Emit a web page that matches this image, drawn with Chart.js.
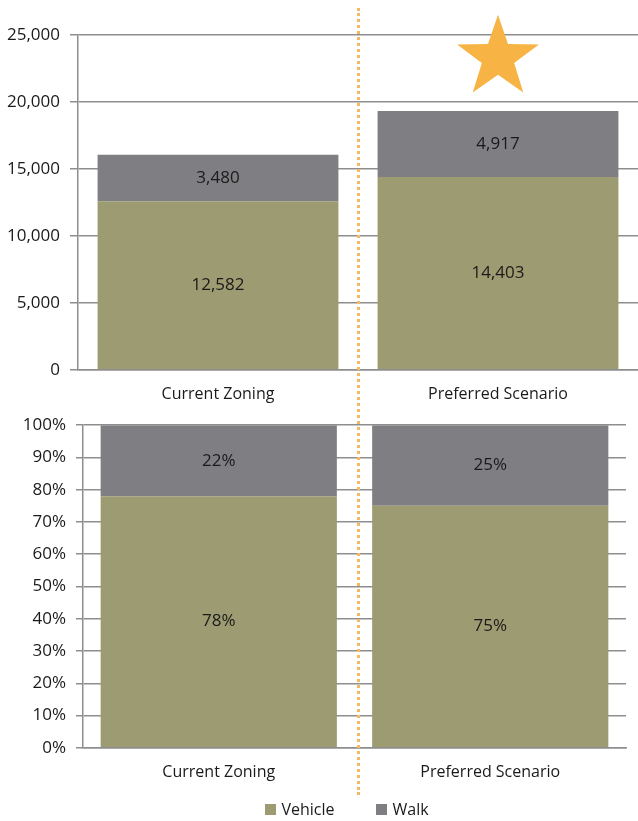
<!DOCTYPE html>
<html>
<head>
<meta charset="utf-8">
<script src="https://cdn.jsdelivr.net/npm/chart.js@4/dist/chart.umd.min.js"></script>
<style>
  html, body { margin: 0; padding: 0; background: #fff; }
  #wrap { position: relative; width: 638px; height: 821px; font-family: 'Open Sans', 'Liberation Sans', sans-serif; }
  #topBox { position: absolute; left: 0; top: 0; width: 638px; height: 411px; }
  #bottomBox { position: absolute; left: 0; top: 405px; width: 638px; height: 384px; }
  #divider { position: absolute; left: 357px; top: 8px; height: 787px; width: 0;
             border-left: 3px dotted #f6b867; z-index: 5; }
  #legend { position: absolute; left: 28px; top: 798px; width: 638px; text-align: center;
            font-size: 16px; color: #1a1a1a; }
  #legend span.item { display: inline-block; margin: 0 21px; }
  #legend span.swatch { display: inline-block; width: 11px; height: 11px; margin-right: 5px;
                        vertical-align: 0px; }
</style>
</head>
<body>
<div id="wrap">
  <div id="topBox"><canvas id="tripsChart"></canvas></div>
  <div id="bottomBox"><canvas id="shareChart"></canvas></div>
  <div id="divider"></div>
  <div id="legend"></div>
</div>
<script>
let categories = ["Current Zoning", "Preferred Scenario"];
let seriesNames = ["Vehicle", "Walk"];
let vehicleTrips = [12582, 14403];
let walkTrips = [3480, 4917];
let vehicleShare = [78, 75];
let walkShare = [22, 25];
let tripTicks = [0, 5000, 10000, 15000, 20000, 25000];

const vehicleColor = "#9c9b71";
const walkColor = "#7f7f83";
const gridColor = "#8e8e8e";
const textColor = "#1a1a1a";
const fontFamily = "'Open Sans', 'Liberation Sans', sans-serif";

// write each segment's value in the middle of its bar
const barLabels = {
    id: "barLabels",
    afterDatasetsDraw(chart, args, opts) {
        let ctx = chart.ctx;
        ctx.save();
        ctx.fillStyle = textColor;
        ctx.font = "17px " + fontFamily;
        ctx.textAlign = "center";
        ctx.textBaseline = "middle";
        chart.data.datasets.forEach(function(ds, i) {
            chart.getDatasetMeta(i).data.forEach(function(bar, j) {
                let mid = (bar.y + bar.base) / 2;
                ctx.fillText(opts.format(ds.data[j]), bar.x, mid);
            });
        });
        ctx.restore();
    }
};

// star above the preferred scenario bar
const starMark = {
    id: "starMark",
    afterDraw(chart) {
        let ctx = chart.ctx;
        let cx = chart.scales.x.getPixelForValue(1);
        let cy = chart.scales.y.getPixelForValue(23300);
        let outer = 43, inner = 17;
        ctx.save();
        ctx.beginPath();
        for (let k = 0; k < 10; k++) {
            let r = k % 2 === 0 ? outer : inner;
            let a = -Math.PI / 2 + k * Math.PI / 5;
            let px = cx + r * Math.cos(a), py = cy + r * Math.sin(a);
            if (k === 0) ctx.moveTo(px, py); else ctx.lineTo(px, py);
        }
        ctx.closePath();
        ctx.fillStyle = "#f7b343";
        ctx.fill();
        ctx.restore();
    }
};

function yFont() { return { family: fontFamily, size: 17 }; }
function xFont() { return { family: fontFamily, size: 16 }; }

let tripsChart = new Chart(document.getElementById("tripsChart"), {
    type: "bar",
    data: {
        labels: categories,
        datasets: [
            { label: seriesNames[0], data: vehicleTrips, backgroundColor: vehicleColor },
            { label: seriesNames[1], data: walkTrips, backgroundColor: walkColor }
        ]
    },
    options: {
        responsive: true,
        maintainAspectRatio: false,
        animation: false,
        layout: { padding: { top: 35, right: 0, left: 0, bottom: 0 } },
        datasets: { bar: { barPercentage: 0.86, categoryPercentage: 1 } },
        plugins: {
            legend: { display: false },
            tooltip: { enabled: false },
            barLabels: { format: v => v.toLocaleString("en-US") }
        },
        scales: {
            x: {
                stacked: true,
                grid: { display: false },
                border: { color: gridColor, width: 1.5 },
                ticks: { color: textColor, font: xFont(), padding: 7 }
            },
            y: {
                stacked: true,
                min: 0,
                max: 25000,
                afterFit: s => { s.width = 78; },
                afterBuildTicks: s => { s.ticks = tripTicks.map(v => ({ value: v })); },
                grid: { color: gridColor, lineWidth: 1.5, tickLength: 8 },
                border: { color: gridColor, width: 1.5 },
                ticks: { color: textColor, font: yFont(), padding: 10,
                         callback: v => v.toLocaleString("en-US") }
            }
        }
    },
    plugins: [barLabels, starMark]
});

let shareChart = new Chart(document.getElementById("shareChart"), {
    type: "bar",
    data: {
        labels: categories,
        datasets: [
            { label: seriesNames[0], data: vehicleShare, backgroundColor: vehicleColor },
            { label: seriesNames[1], data: walkShare, backgroundColor: walkColor }
        ]
    },
    options: {
        responsive: true,
        maintainAspectRatio: false,
        animation: false,
        layout: { padding: { top: 8, right: 12, left: 0, bottom: 0 } },
        datasets: { bar: { barPercentage: 0.87, categoryPercentage: 1 } },
        plugins: {
            legend: { display: false },
            tooltip: { enabled: false },
            barLabels: { format: v => v + "%" }
        },
        scales: {
            x: {
                stacked: true,
                grid: { display: false },
                border: { color: gridColor, width: 1.5 },
                ticks: { color: textColor, font: xFont(), padding: 7 }
            },
            y: {
                stacked: true,
                min: 0,
                max: 100,
                afterFit: s => { s.width = 83; },
                grid: { color: gridColor, lineWidth: 1.5, tickLength: 7 },
                border: { color: gridColor, width: 1.5 },
                ticks: { stepSize: 10, color: textColor, font: yFont(), padding: 10,
                         callback: v => v + "%" }
            }
        }
    },
    plugins: [barLabels]
});

// legend built from the datasets of the share chart
let legendBox = document.getElementById("legend");
shareChart.data.datasets.forEach(function(ds) {
    let item = document.createElement("span");
    item.className = "item";
    let sw = document.createElement("span");
    sw.className = "swatch";
    sw.style.background = ds.backgroundColor;
    item.appendChild(sw);
    item.appendChild(document.createTextNode(ds.label));
    legendBox.appendChild(item);
});
</script>
</body>
</html>
